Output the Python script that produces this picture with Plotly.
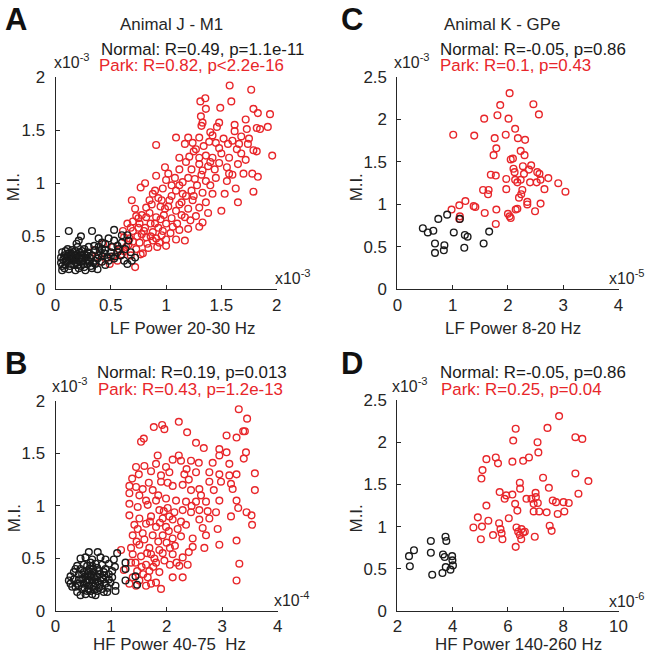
import plotly.graph_objects as go

# ---------------- data (values in displayed axis units) ----------------
# Panel A: LF Power 20-30 Hz (x10^-3) vs M.I. (x10^-3), Animal J - M1
A_NORMAL = [(0.12,0.55),(0.33,0.55),(0.53,0.56),(0.23,0.50),(0.21,0.46),(0.19,0.43),(0.06,0.35),(0.09,0.36),
            (0.12,0.34),(0.15,0.37),(0.18,0.32),(0.14,0.29),(0.09,0.27),(0.05,0.25),(0.06,0.18),(0.12,0.19),
            (0.17,0.23),(0.21,0.20),(0.24,0.26),(0.27,0.30),(0.30,0.34),(0.29,0.24),(0.33,0.20),(0.36,0.27),
            (0.39,0.32),(0.39,0.40),(0.42,0.44),(0.45,0.43),(0.48,0.48),(0.53,0.46),(0.56,0.41),(0.60,0.44),
            (0.65,0.51),(0.66,0.46),(0.63,0.38),(0.68,0.35),(0.72,0.30),(0.59,0.32),(0.53,0.29),(0.48,0.27),
            (0.45,0.23),(0.42,0.31),(0.50,0.35),(0.45,0.37),(0.35,0.41),(0.30,0.40),(0.26,0.38),(0.20,0.40),
            (0.21,0.27),(0.18,0.18),(0.27,0.18),(0.38,0.19),(0.11,0.30),(0.08,0.32),(0.14,0.24),(0.30,0.27),
            (0.33,0.32),(0.26,0.33),(0.17,0.27),(0.23,0.32),(0.39,0.48),(0.60,0.51),(0.56,0.35),(0.69,0.27),
            (0.65,0.24),(0.12,0.27),(0.05,0.30),(0.09,0.23),(0.20,0.23),(0.24,0.29),(0.32,0.22),(0.36,0.24),
            (0.42,0.26),(0.29,0.35),(0.15,0.32),(0.11,0.38),(0.36,0.37),(0.42,0.38),(0.47,0.30),(0.51,0.40),
            (0.54,0.31),(0.62,0.27),(0.18,0.36),(0.22,0.35),(0.08,0.20),(0.26,0.21),(0.10,0.31),(0.13,0.22),
            (0.16,0.28),(0.19,0.25),(0.22,0.30),(0.25,0.24),(0.28,0.28),(0.31,0.30),(0.34,0.25),(0.07,0.28),
            (0.14,0.34),(0.20,0.33),(0.10,0.26),(0.16,0.35),(0.24,0.36),(0.28,0.32),(0.13,0.30),(0.19,0.29),
            (0.06,0.22),(0.23,0.22),(0.31,0.26),(0.38,0.29),(0.44,0.34),(0.50,0.31),(0.57,0.38),(0.40,0.36)]
A_PARK = [(1.575,1.92),(1.77,1.88),(1.355,1.80),(1.31,1.77),(1.59,1.77),(1.49,1.71),(1.36,1.70),(1.79,1.70),
          (1.94,1.65),(1.83,1.66),(1.72,1.60),(1.315,1.63),(1.33,1.57),(1.48,1.57),(1.62,1.55),(1.62,1.49),
          (1.73,1.51),(1.92,1.53),(1.82,1.52),(1.85,1.51),(1.32,1.54),(1.46,1.53),(1.09,1.43),(1.20,1.43),
          (1.30,1.43),(1.24,1.38),(1.39,1.39),(1.45,1.38),(0.91,1.36),(1.17,1.37),(1.27,1.32),(1.48,1.33),
          (1.56,1.37),(1.66,1.37),(1.74,1.37),(1.79,1.31),(1.82,1.30),(1.64,1.32),(1.96,1.26),(1.21,1.25),
          (1.30,1.24),(1.36,1.26),(1.42,1.24),(1.57,1.24),(1.18,1.20),(1.30,1.18),(1.48,1.19),(1.65,1.18),
          (0.99,1.15),(1.12,1.13),(1.23,1.13),(1.33,1.12),(1.44,1.13),(1.57,1.09),(1.70,1.09),(1.78,1.09),
          (1.83,1.06),(1.02,1.09),(1.08,1.05),(0.91,1.07),(1.00,1.03),(1.15,1.01),(1.26,1.04),(1.36,1.02),
          (1.45,1.05),(0.81,1.00),(0.77,0.96),(0.90,0.93),(0.97,0.95),(1.09,0.93),(1.23,0.93),(1.33,0.91),
          (1.42,0.90),(1.63,0.95),(1.79,0.92),(1.53,0.90),(0.69,0.84),(0.85,0.84),(0.96,0.84),(1.03,0.84),
          (1.14,0.82),(1.24,0.84),(1.36,0.82),(1.65,0.82),(0.72,0.76),(0.82,0.77),(0.99,0.76),(1.09,0.74),
          (1.20,0.76),(1.30,0.77),(1.50,0.74),(0.73,0.69),(0.82,0.68),(0.91,0.68),(1.05,0.67),(1.17,0.68),
          (1.27,0.69),(1.33,0.63),(0.65,0.62),(0.76,0.62),(0.90,0.62),(1.00,0.62),(1.06,0.59),(1.20,0.57),
          (1.30,0.59),(0.61,0.55),(0.70,0.55),(0.80,0.55),(0.88,0.54),(0.97,0.55),(0.82,0.49),(0.91,0.48),
          (1.00,0.47),(1.09,0.47),(1.17,0.46),(0.76,0.44),(0.83,0.43),(0.94,0.44),(1.00,0.41),(0.64,0.40),
          (0.73,0.38),(0.58,0.37),(0.79,0.34),(0.68,0.32),(0.52,0.31),(0.46,0.30),(0.56,0.27),(0.40,0.26),
          (0.72,0.21),(0.49,0.24),(0.37,0.30),(0.52,0.40),(0.62,0.49),(0.43,0.43),(0.35,0.37),(0.75,0.58),
          (0.85,0.72),(0.95,0.78),(1.05,0.88),(1.12,0.98),(0.88,0.90),(0.78,0.70),(0.67,0.48),(0.60,0.33),
          (0.70,0.45),(1.10,0.62),(1.14,0.70),(0.98,0.70),(0.86,0.62),(0.93,0.58),(1.40,1.48),(1.52,1.42),
          (1.68,1.44),(1.25,1.30),(1.38,1.16),(1.55,1.15),(1.72,1.22),(1.12,1.24),(1.40,0.98),(1.55,1.02),
          (1.18,0.88),(1.28,0.98),(1.05,0.98),(0.93,0.86),(1.12,0.56),(0.78,0.52),(0.88,0.46),(0.66,0.42),
          (0.74,0.50),(0.96,0.51),(1.04,0.53),(0.62,0.36),(0.84,0.39),(0.92,0.40),(0.77,0.33),(0.81,0.58),
          (0.86,0.50),(0.70,0.64),(0.68,0.58),(0.75,0.67),(0.87,0.80),(1.02,0.78),(1.15,0.90),(1.20,1.05),
          (1.32,1.08),(1.40,1.20),(1.50,1.28),(1.34,1.35),(1.42,1.45),(1.60,1.40),(1.68,1.28),(1.12,0.80),
          (0.95,0.66),(1.22,0.65),(1.25,0.88),(1.38,0.72),(1.60,1.08),(1.75,1.42)]

# Panel B: HF Power 40-75 Hz (x10^-4) vs M.I. (x10^-3)
B_NORMAL = [(0.60,0.56),(0.76,0.56),(1.11,0.55),(0.45,0.50),(0.54,0.51),(0.66,0.49),(0.81,0.51),(0.90,0.49),
            (1.05,0.49),(0.39,0.43),(0.51,0.44),(0.72,0.45),(0.84,0.44),(0.96,0.45),(1.07,0.42),(1.26,0.46),
            (1.26,0.40),(0.27,0.33),(0.33,0.37),(0.42,0.35),(0.51,0.37),(0.60,0.38),(0.69,0.37),(0.78,0.38),
            (0.87,0.37),(0.96,0.35),(1.02,0.32),(1.44,0.33),(1.26,0.29),(1.47,0.25),(0.24,0.29),(0.33,0.30),
            (0.39,0.26),(0.48,0.30),(0.57,0.29),(0.66,0.30),(0.72,0.26),(0.81,0.29),(0.90,0.26),(0.99,0.27),
            (1.08,0.19),(0.30,0.23),(0.39,0.18),(0.48,0.21),(0.57,0.19),(0.66,0.16),(0.75,0.19),(0.84,0.21),
            (0.93,0.18),(0.60,0.24),(0.54,0.33),(0.63,0.33),(0.69,0.32),(0.45,0.40),(0.57,0.43),(0.63,0.46),
            (0.75,0.41),(0.84,0.32),(0.78,0.22),(0.51,0.26),(0.42,0.30),(0.36,0.23),(0.63,0.19),(0.69,0.23),
            (0.90,0.40),(0.96,0.30),(0.27,0.26),(0.45,0.15),(0.54,0.16),(0.72,0.15),(0.87,0.18),(1.02,0.38),
            (0.36,0.40),(0.60,0.29),(1.08,0.24),(0.48,0.35),(0.58,0.36),(0.66,0.27),(0.75,0.33),(0.70,0.20),
            (0.80,0.25),(0.62,0.40),(0.52,0.22),(0.42,0.24),(0.86,0.30),(0.94,0.22),(0.56,0.27),(0.64,0.35),
            (0.72,0.30),(0.68,0.40),(0.80,0.35),(0.50,0.31),(0.60,0.20),(0.76,0.28),(0.66,0.43),(0.88,0.34)]
B_PARK = [(3.30,1.92),(3.45,1.83),(2.37,1.70),(1.77,1.75),(1.92,1.77),(1.96,1.73),(2.22,1.80),(1.59,1.64),
          (1.54,1.61),(3.08,1.67),(3.26,1.65),(3.38,1.71),(3.41,1.71),(2.53,1.60),(2.67,1.55),(2.95,1.54),
          (3.08,1.51),(3.43,1.51),(2.95,1.48),(3.39,1.45),(1.45,1.37),(1.60,1.38),(1.84,1.48),(2.11,1.44),
          (2.26,1.43),(2.44,1.43),(2.58,1.41),(2.83,1.41),(3.13,1.40),(1.81,1.40),(1.99,1.37),(2.22,1.48),
          (1.38,1.26),(1.72,1.33),(1.90,1.29),(2.05,1.32),(2.32,1.30),(2.53,1.32),(2.77,1.32),(2.95,1.30),
          (3.13,1.29),(3.26,1.30),(3.59,1.31),(1.33,1.19),(1.45,1.18),(1.57,1.16),(1.75,1.15),(1.90,1.23),
          (2.11,1.19),(2.29,1.20),(2.44,1.15),(2.59,1.16),(2.77,1.23),(2.98,1.23),(3.19,1.16),(3.59,1.15),
          (1.33,1.12),(1.51,1.10),(1.63,1.05),(1.81,1.05),(1.99,1.07),(2.17,1.05),(2.35,1.04),(2.53,1.04),
          (2.71,1.04),(2.95,1.05),(3.26,1.05),(3.16,1.21),(1.33,1.02),(1.48,0.99),(1.66,1.01),(1.87,0.96),
          (2.02,0.98),(2.14,0.94),(2.29,0.96),(2.44,0.94),(2.59,0.96),(2.74,0.95),(2.89,0.94),(3.29,0.98),
          (3.44,0.94),(3.53,0.91),(3.16,0.90),(1.33,0.91),(1.51,0.88),(1.72,0.90),(1.93,0.88),(2.11,0.87),
          (2.26,0.85),(2.59,0.87),(2.77,0.88),(1.42,0.82),(1.63,0.83),(1.81,0.80),(1.99,0.80),(2.35,0.82),
          (2.65,0.79),(2.92,0.78),(3.54,0.82),(1.39,0.72),(1.57,0.74),(1.75,0.72),(1.93,0.72),(2.11,0.69),
          (2.26,0.71),(2.47,0.69),(2.71,0.72),(2.95,0.63),(2.68,0.60),(3.26,0.67),(1.36,0.60),(1.51,0.63),
          (1.69,0.60),(1.87,0.58),(2.06,0.60),(2.47,0.61),(1.39,0.54),(1.54,0.52),(1.72,0.54),(1.93,0.55),
          (2.11,0.54),(2.29,0.51),(1.44,0.46),(1.63,0.44),(1.81,0.46),(2.06,0.44),(2.23,0.43),(2.38,0.44),
          (3.31,0.45),(1.47,0.38),(1.69,0.38),(1.87,0.37),(2.11,0.32),(2.29,0.32),(1.39,0.32),(1.51,0.29),
          (1.66,0.32),(1.81,0.27),(1.63,0.24),(1.90,0.21),(3.26,0.29),(1.33,0.26),(1.45,0.24),(1.72,0.26),
          (1.23,0.39),(1.18,0.58),(1.36,0.46),(1.95,0.95),(2.05,0.90),(1.85,1.10),(2.00,0.65),(1.78,0.50),
          (1.60,0.68),(2.20,0.78),(1.70,0.85),(2.40,1.25),(1.50,1.30),(2.15,0.62),(1.55,0.42),(2.02,1.22),
          (1.65,0.55),(1.85,0.66),(1.58,0.35),(1.76,0.42),(1.96,0.48),(2.18,0.46),(1.48,0.78),(1.88,0.84),
          (2.45,1.00),(2.62,1.10),(2.85,1.15),(2.36,1.35),(1.68,1.22),(1.46,0.66),(2.40,0.56),(2.04,0.76)]

# Panel C: LF Power 8-20 Hz (x10^-5) vs M.I. (x10^-3), Animal K - GPe
C_NORMAL = [(0.46,0.72),(0.55,0.67),(0.65,0.69),(0.74,0.83),(0.90,0.88),(1.13,0.83),(1.02,0.67),(1.22,0.64),
            (1.27,0.62),(0.68,0.54),(0.85,0.52),(0.84,0.46),(0.68,0.43),(1.21,0.49),(1.56,0.54),(1.66,0.68)]
C_PARK = [(2.03,2.31),(1.86,2.17),(2.46,2.18),(2.56,2.06),(1.57,2.01),(1.81,2.05),(2.01,2.01),(1.01,1.82),
          (1.39,1.81),(1.96,1.82),(2.13,1.89),(1.76,1.78),(2.18,1.78),(2.31,1.76),(1.79,1.66),(2.23,1.63),
          (1.74,1.58),(2.30,1.58),(2.05,1.53),(2.09,1.54),(2.42,1.46),(2.27,1.45),(2.38,1.41),(2.10,1.42),
          (2.12,1.38),(2.53,1.38),(2.57,1.36),(2.29,1.36),(1.69,1.35),(1.78,1.34),(2.40,1.26),(2.52,1.26),
          (2.59,1.29),(2.73,1.31),(2.91,1.25),(3.04,1.15),(2.66,1.18),(1.97,1.30),(2.13,1.29),(2.23,1.29),
          (2.17,1.26),(1.55,1.17),(1.65,1.17),(1.64,1.12),(1.97,1.18),(2.26,1.17),(2.24,1.12),(2.20,1.08),
          (2.35,1.03),(2.35,1.00),(2.59,1.01),(2.49,0.92),(2.17,0.95),(2.14,0.94),(1.79,0.94),(1.58,0.90),
          (0.98,0.94),(1.12,0.99),(1.23,1.04),(1.38,0.98),(1.41,0.97),(2.00,0.89),(2.03,0.86),(2.05,0.84),
          (1.78,0.77),(1.13,0.86),(1.12,0.83)]

# Panel D: HF Power 140-260 Hz (x10^-6) vs M.I. (x10^-3)
D_NORMAL = [(2.42,0.65),(2.60,0.72),(2.45,0.53),(3.21,0.83),(3.21,0.69),(3.26,0.43),(3.74,0.88),(3.77,0.83),
            (3.65,0.67),(3.71,0.64),(3.98,0.65),(3.99,0.60),(4.01,0.54),(3.75,0.52),(3.63,0.45),(3.92,0.49)]
D_PARK = [(7.85,2.31),(6.28,2.16),(7.43,2.17),(8.44,2.06),(8.69,2.04),(6.19,2.02),(7.07,2.00),(7.10,1.88),
          (5.22,1.80),(5.56,1.82),(5.64,1.75),(6.16,1.77),(6.55,1.78),(6.76,1.82),(5.08,1.67),(5.04,1.57),
          (8.44,1.63),(7.27,1.58),(6.43,1.52),(6.44,1.45),(7.48,1.46),(8.91,1.54),(8.55,1.39),(5.70,1.41),
          (5.94,1.37),(5.88,1.33),(6.16,1.38),(6.26,1.27),(6.67,1.33),(6.85,1.33),(7.00,1.40),(7.01,1.35),
          (6.93,1.27),(7.08,1.28),(5.22,1.25),(6.34,1.19),(6.93,1.18),(7.13,1.18),(7.40,1.17),(7.62,1.31),
          (7.74,1.29),(8.01,1.29),(8.20,1.28),(7.80,1.15),(8.04,1.18),(4.91,1.11),(5.29,1.07),(6.03,1.10),
          (4.75,0.99),(5.06,1.00),(5.68,1.04),(5.73,0.97),(5.77,0.92),(5.46,0.90),(5.80,0.85),(5.02,0.85),
          (6.31,0.99),(6.37,0.94),(6.49,0.97),(6.55,0.93),(6.61,0.94),(6.48,0.85),(6.43,0.90),(6.28,0.76),
          (6.97,0.88),(7.51,1.01),(7.58,0.95)]

# axis ticks
TICKS_A_X = [0, 0.5, 1, 1.5, 2]
TICKS_A_Y = [0, 0.5, 1, 1.5, 2]
TICKS_B_X = [0, 1, 2, 3, 4]
TICKS_B_Y = [0, 0.5, 1, 1.5, 2]
TICKS_C_X = [0, 1, 2, 3, 4]
TICKS_C_Y = [0, 0.5, 1, 1.5, 2, 2.5]
TICKS_D_X = [2, 4, 6, 8, 10]
TICKS_D_Y = [0, 0.5, 1, 1.5, 2, 2.5]

# ---------------- styling ----------------
W, H = 651, 660
# the photographed page appears slightly inset/scaled; positions below are
# target picture pixels, converted to page pixels here
SX, OX = 0.978, 5.5
SY, OY = 0.974, 7.8
FONT = "Arial, Liberation Sans, sans-serif"
BLACK = "#1a1a1a"
AXC = "#262626"
RED = "#e8262a"
FS = 16.9


def px(x):
    return max((x - OX) / SX, -1.0) / W


def py(y):
    return 1 - ((y - OY) / SY) / H


panels = [
    dict(n="", data=(A_NORMAL, A_PARK), xd=(56, 277), yd=(76, 289), xr=[0, 2], yr=[0, 2],
         tx=TICKS_A_X, ty=TICKS_A_Y),
    dict(n="2", data=(C_NORMAL, C_PARK), xd=(397.7, 618.7), yd=(76, 289), xr=[0, 4], yr=[0, 2.5],
         tx=TICKS_C_X, ty=TICKS_C_Y),
    dict(n="3", data=(B_NORMAL, B_PARK), xd=(56, 278), yd=(400.7, 611.5), xr=[0, 4], yr=[0, 2],
         tx=TICKS_B_X, ty=TICKS_B_Y),
    dict(n="4", data=(D_NORMAL, D_PARK), xd=(397.7, 618.7), yd=(400, 611.5), xr=[2, 10], yr=[0, 2.5],
         tx=TICKS_D_X, ty=TICKS_D_Y),
]

fig = go.Figure()
layout = dict(width=W, height=H, margin=dict(l=0, r=0, t=0, b=0), showlegend=False,
              plot_bgcolor="white", paper_bgcolor="white",
              font=dict(family=FONT, size=FS, color=AXC))

for p in panels:
    normal, park = p["data"]
    for pts, col in ((park, RED), (normal, BLACK)):
        fig.add_trace(go.Scatter(
            x=[a for a, b in pts], y=[b for a, b in pts], mode="markers",
            xaxis="x" + p["n"], yaxis="y" + p["n"], cliponaxis=False,
            marker=dict(symbol="circle-open", size=6.7, color=col, line=dict(width=1.4, color=col)),
            hoverinfo="skip"))
    axcommon = dict(showline=True, linecolor=AXC, linewidth=1.2, ticks="inside", ticklen=4,
                    tickwidth=1, tickcolor=AXC, showgrid=False, zeroline=False, mirror=False,
                    tickfont=dict(family=FONT, size=FS, color=AXC), fixedrange=True)
    layout["xaxis" + p["n"]] = dict(axcommon, domain=[px(p["xd"][0]), px(p["xd"][1])], range=p["xr"],
                                    tickvals=p["tx"], anchor="y" + p["n"])
    layout["yaxis" + p["n"]] = dict(axcommon, domain=[py(p["yd"][1]), py(p["yd"][0])], range=p["yr"],
                                    tickvals=p["ty"], anchor="x" + p["n"], ticklabelstandoff=6)

fig.update_layout(**layout)


def ann(text, x, y, size=FS, color=AXC, xanchor="left", bold=False, angle=0, pad=1):
    fig.add_annotation(text=("<b>%s</b>" % text) if bold else text, x=px(x), y=py(y),
                       xref="paper", yref="paper", showarrow=False, xanchor=xanchor,
                       yanchor="middle", textangle=angle, borderpad=pad,
                       font=dict(family=FONT, size=size, color=color))


# Panel letters
ann("A", 0, 18, size=31, color="#111111", bold=True, pad=0)
ann("C", 339, 18, size=31, color="#111111", bold=True)
ann("B", 0, 363, size=31, color="#111111", bold=True, pad=0)
ann("D", 339, 363, size=31, color="#111111", bold=True)

# Titles
ann("Animal J - M1", 172, 23, xanchor="center")
ann("Animal K - GPe", 502, 23, xanchor="center")

# Stats
ann("Normal: R=0.49, p=1.1e-11", 99, 48, color=BLACK)
ann("Park: R=0.82, p<2.2e-16", 97.5, 64, color=RED)
ann("Normal: R=-0.05, p=0.86", 438.5, 48, color=BLACK)
ann("Park: R=0.1, p=0.43", 438.5, 64, color=RED)
ann("Normal: R=0.19, p=0.013", 95, 372, color=BLACK)
ann("Park: R=0.43, p=1.2e-13", 96, 389, color=RED)
ann("Normal: R=-0.05, p=0.86", 438.5, 372, color=BLACK)
ann("Park: R=0.25, p=0.04", 439.5, 389, color=RED)

# Exponent labels
ann("x10<sup>-3</sup>", 52, 60, size=15.9)
ann("x10<sup>-3</sup>", 392, 60, size=15.9)
ann("x10<sup>-3</sup>", 50, 385, size=15.9)
ann("x10<sup>-3</sup>", 390, 385, size=15.9)
ann("x10<sup>-3</sup>", 273, 277, size=15.9)
ann("x10<sup>-5</sup>", 607, 277, size=15.9)
ann("x10<sup>-4</sup>", 272, 599, size=15.9)
ann("x10<sup>-6</sup>", 607, 600, size=15.9)

# Axis labels
ann("LF Power 20-30 Hz", 183, 328, xanchor="center")
ann("LF Power 8-20 Hz", 513, 328, xanchor="center")
ann("HF Power 40-75  Hz", 170, 645.5, xanchor="center")
ann("HF Power 140-260 Hz", 519, 645.5, xanchor="center")
ann("M.I.", 14, 187, xanchor="center", angle=-90)
ann("M.I.", 357, 187, xanchor="center", angle=-90)
ann("M.I.", 15, 519, xanchor="center", angle=-90)
ann("M.I.", 357, 519, xanchor="center", angle=-90)

fig.write_html("out.html", post_script="document.body.style.margin='0';",
               config={"displayModeBar": False})
